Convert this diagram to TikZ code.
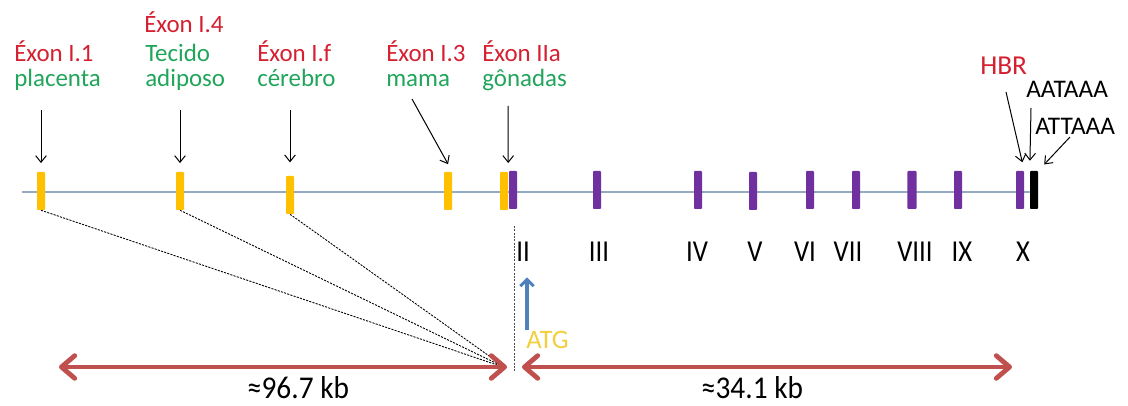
\documentclass[tikz,border=0pt]{standalone}
\usepackage{fontspec}
\usepackage{graphicx}
\setmainfont{Carlito}
\usetikzlibrary{arrows.meta}
\definecolor{exred}{HTML}{D42030}
\definecolor{exgreen}{HTML}{20A55A}
\definecolor{exyellow}{HTML}{FFC000}
\definecolor{expurple}{HTML}{7030A0}
\definecolor{dnaline}{HTML}{93AAC2}
\definecolor{atgblue}{HTML}{4F81BD}
\definecolor{atgtext}{HTML}{F2CF3C}
\definecolor{spanred}{HTML}{C0504D}
\newcommand{\tall}[1]{\scalebox{1}[1.14]{#1}}
\begin{document}
\begin{tikzpicture}[x=0.75pt,y=-0.75pt,
  bar/.style={draw=none, minimum width=6pt, minimum height=28.5pt, inner sep=0pt, rounded corners=0.6pt},
  ybar/.style={bar, fill=exyellow},
  pbar/.style={bar, fill=expurple},
  kbar/.style={bar, fill=black},
  lbl/.style={anchor=base west, inner sep=0pt, font=\fontsize{18.7}{22}\selectfont},
  rlbl/.style={lbl, text=exred},
  glbl/.style={lbl, text=exgreen},
  num/.style={anchor=base, inner sep=0pt, font=\fontsize{20}{24}\selectfont},
  ptr/.style={-{Straight Barb[length=5pt,width=8pt]}, line width=0.75pt, shorten >=6.5pt},
  dnastyle/.style={draw=dnaline, line width=1.2pt},
  guide/.style={dashed, dash pattern=on 1.6pt off 0.9pt, line width=0.65pt},
  span/.style={draw=spanred, line width=3.6pt, line cap=round,
    {Straight Barb[length=10pt,width=17pt,line cap=round,line join=round]}-{Straight Barb[length=10pt,width=17pt,line cap=round,line join=round]}},
  kb/.style={anchor=base, inner sep=0pt, font=\fontsize{22}{26}\selectfont}
]
\useasboundingbox (0,0) rectangle (1128,406);

% gene backbone
\coordinate (dnaL) at (22,192);
\coordinate (dnaR) at (1030,192);
\draw[dnastyle] (dnaL) -- (dnaR);

% untranslated first exons (yellow)
\node[ybar] (e11) at (41,191) {};
\node[ybar] (e14) at (180,191) {};
\node[ybar] (e1f) at (290,195) {};
\node[ybar] (e13) at (448,191) {};
\node[ybar] (e2a) at (504,191) {};

% coding exons (purple) and 3' end (black)
\node[pbar] (e2) at (513,190) {};
\node[pbar] (e3) at (597,190) {};
\node[pbar] (e4) at (698,190) {};
\node[pbar] (e5) at (753,191) {};
\node[pbar] (e6) at (810,190) {};
\node[pbar] (e7) at (856,190) {};
\node[pbar, minimum width=6.8pt] (e8) at (912,190) {};
\node[pbar] (e9) at (958,190) {};
\node[pbar] (e10) at (1020,190) {};
\node[kbar] (pa) at (1034,190) {};

% promoter labels
\node[rlbl] (t11a) at (14,62) {Éxon I.1};
\node[glbl] (t11b) at (14,87) {placenta};
\node[rlbl] (t14a) at (144,33) {Éxon I.4};
\node[glbl] (t14b) at (145,62) {Tecido};
\node[glbl] (t14c) at (145,87) {adiposo};
\node[rlbl] (t1fa) at (257,62) {Éxon I.f};
\node[glbl] (t1fb) at (257,87) {cérebro};
\node[rlbl] (t13a) at (386,62) {Éxon I.3};
\node[glbl] (t13b) at (386,87) {mama};
\node[rlbl] (t2aa) at (482,62) {Éxon IIa};
\node[glbl] (t2ab) at (482,87) {gônadas};

% pointers from labels to exons
\coordinate (s11) at (41,110);
\coordinate (s14) at (180,110);
\coordinate (s1f) at (290,110);
\coordinate (s13) at (412,99);
\coordinate (s2a) at (508,106);
\draw[ptr] (s11) -- (e11.north);
\draw[ptr] (s14) -- (e14.north);
\draw[ptr, shorten >=10pt] (s1f) -- (e1f.north);
\draw[ptr] (s13) -- (e13.north east);
\draw[ptr] (s2a) -- (e2a.north east);

% 3' end labels
\node[lbl, text=exred, font=\fontsize{20.5}{24}\selectfont] (hbr) at (980,75) {HBR};
\node[lbl, font=\fontsize{19}{22}\selectfont] (aat) at (1026,98) {AATAAA};
\node[lbl, font=\fontsize{19}{22}\selectfont] (att) at (1035,135) {ATTAAA};
\coordinate (shbr) at (1006,92);
\coordinate (saat) at (1031,108);
\coordinate (satt) at (1070,137);
\draw[ptr] (shbr) -- (e10.north east);
\draw[ptr, shorten >=7.5pt] (saat) -- (pa.north west);
\draw[ptr] (satt) -- (pa.north east);

% exon numbers
\node[num] (n2) at (523,261) {\tall{II}};
\node[num] (n3) at (599,261) {\tall{III}};
\node[num] (n4) at (697,261) {\tall{IV}};
\node[num] (n5) at (755,261) {\tall{V}};
\node[num] (n6) at (805,261) {\tall{VI}};
\node[num] (n7) at (848,262) {\tall{VII}};
\node[num] (n8) at (915,261) {\tall{VIII}};
\node[num] (n9) at (962,261) {\tall{IX}};
\node[num] (n10) at (1023,261) {\tall{X}};

% start codon
\node[lbl, text=atgtext, font=\fontsize{20}{24}\selectfont] (atg) at (526,348) {ATG};
\draw[draw=atgblue, line width=2.3pt, -{Straight Barb[length=5pt,width=10pt]}, shorten >=12pt]
  ([xshift=0.75pt]atg.north west) -- ([xshift=0.75pt]atg.north west |- n2.south);

% first exons collapse onto the start of exon II
\coordinate (conv) at (506,368);
\draw[guide] (e11.south) -- (conv);
\draw[guide] (e14.south) -- (conv);
\draw[guide] (e1f.south) -- (conv);
\coordinate (dtop) at (514,226);
\coordinate (dbot) at (514,371);
\draw[guide, draw=black!70] (dtop) -- (dbot);

% genomic spans
\coordinate (r1a) at (59,367);
\coordinate (r1b) at (507,367);
\coordinate (r2a) at (522,367);
\coordinate (r2b) at (1012,367);
\draw[span] (r1a) -- (r1b);
\draw[span] (r2a) -- (r2b);
\node[kb] (kb1) at (298,398) {\scalebox{1}[1.08]{≈96.7 kb}};
\node[kb] (kb2) at (752,398) {\scalebox{1}[1.08]{≈34.1 kb}};
\end{tikzpicture}
\end{document}
